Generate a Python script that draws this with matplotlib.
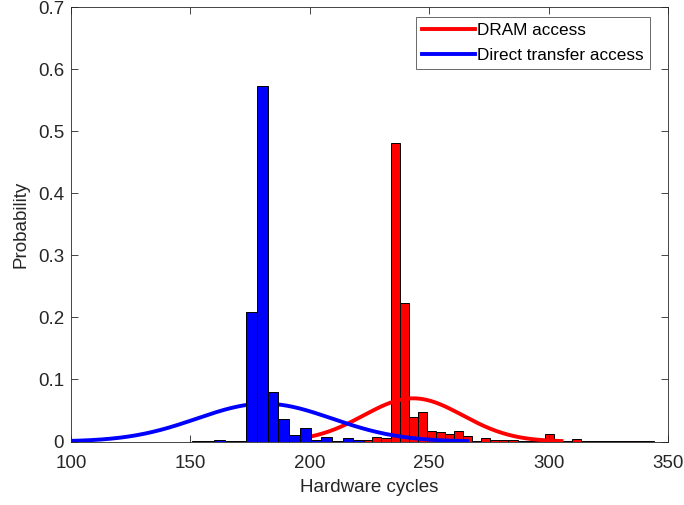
import numpy as np
import matplotlib
matplotlib.use('Agg')
import matplotlib.pyplot as plt

plt.rcParams['font.family'] = ['Liberation Sans', 'DejaVu Sans']

# Histogram data (probability per bin)
blue_start = 150.8
blue_width = 4.5
blue_probs = [0.0015, 0.001, 0.003, 0.001, 0.0015, 0.208, 0.573, 0.08, 0.036,
              0.0105, 0.022, 0.002, 0.007, 0.001, 0.005, 0.002]

red_start = 222.4
red_width = 3.8
red_probs = [0.0025, 0.0072, 0.005, 0.481, 0.223, 0.039, 0.0475, 0.0175, 0.016,
             0.012, 0.0175, 0.009, 0.001, 0.0056, 0.002, 0.002, 0.003, 0.001,
             0.001, 0.001, 0.0116, 0.001, 0.0015, 0.0045, 0.001, 0.0015, 0.0005,
             0.001, 0.0005, 0.0015, 0.001, 0.0015]

# fitted normal curves: mean, sigma, peak height
red_fit = (243.3, 20.7, 0.0696)
blue_fit = (181.0, 28.3, 0.061)

labels = ['DRAM access', 'Direct transfer access']
xticks = [100, 150, 200, 250, 300, 350]
yticks = [0, 0.1, 0.2, 0.3, 0.4, 0.5, 0.6, 0.7]


def fit_curve(mu, sigma, peak):
    x = np.linspace(mu - 3 * sigma, mu + 3 * sigma, 300)
    return x, peak * np.exp(-0.5 * ((x - mu) / sigma) ** 2)


fig = plt.figure(figsize=(6.84, 5.05), dpi=100)
ax = fig.add_axes([0.1038, 0.1257, 0.8728, 0.8604])

red_left = red_start + red_width * np.arange(len(red_probs))
blue_left = blue_start + blue_width * np.arange(len(blue_probs))

ax.bar(red_left, red_probs, width=red_width, align='edge', color='#ff0000',
       edgecolor='black', linewidth=0.7, zorder=1)
xr, yr = fit_curve(*red_fit)
ax.plot(xr, yr, color='#ff0000', lw=2.8, label=labels[0], zorder=2)
xb, yb = fit_curve(*blue_fit)
ax.plot(xb, yb, color='#0000ff', lw=2.8, label=labels[1], zorder=3)
ax.bar(blue_left, blue_probs, width=blue_width, align='edge', color='#0000ff',
       edgecolor='black', linewidth=0.7, zorder=4)

ax.set_xlim(100, 350)
ax.set_ylim(0, 0.7)
ax.set_xticks(xticks)
ax.set_yticks(yticks)
ax.set_yticklabels(['0' if v == 0 else f'{v:g}' for v in yticks])
ax.tick_params(direction='in', length=5, width=0.6, top=True, right=True,
               labelsize=13.5, colors='#262626')
ax.tick_params(axis='x', pad=10)
ax.tick_params(axis='y', pad=5)
for s in ax.spines.values():
    s.set_color('#262626')
    s.set_linewidth(0.6)
    s.set_zorder(6)

ax.set_xlabel('Hardware cycles', fontsize=13.5, color='#262626', labelpad=5)
ax.set_ylabel('Probability', fontsize=13.5, color='#262626', labelpad=6)

leg = ax.legend(loc='upper right', bbox_to_anchor=(0.970, 0.977),
                borderaxespad=0, fontsize=12.3, frameon=True, fancybox=False,
                edgecolor='#262626', handlelength=3.1, handletextpad=0.15,
                borderpad=0.35, labelspacing=0.6)
leg.get_frame().set_linewidth(0.6)
leg.set_zorder(7)

fig.savefig('out.png', dpi=100)
